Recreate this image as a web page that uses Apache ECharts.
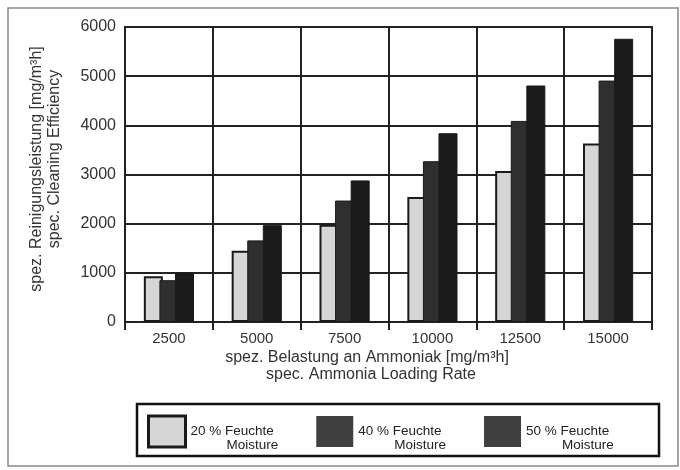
<!DOCTYPE html>
<html>
<head>
<meta charset="utf-8">
<script src="https://cdn.jsdelivr.net/npm/echarts@6/dist/echarts.min.js"></script>
<style>
html,body{margin:0;padding:0;background:#fff;}
#chart{width:680px;height:470px;}
</style>
</head>
<body>
<div id="chart"></div>
<script>
// ---- data ----
const categories = ['2500', '5000', '7500', '10000', '12500', '15000'];
const moisture20 = [930, 1450, 1980, 2540, 3070, 3630];
const moisture40 = [850, 1660, 2470, 3270, 4090, 4910];
const moisture50 = [1000, 1970, 2880, 3840, 4810, 5760];
const seriesNames = ['20 % Feuchte', '40 % Feuchte', '50 % Feuchte'];
const seriesSubNames = ['Moisture', 'Moisture', 'Moisture'];
const yTicks = { min: 0, max: 6000, interval: 1000 };
const xTitle = ['spez. Belastung an Ammoniak [mg/m³h]', 'spec. Ammonia Loading Rate'];
const yTitle = ['spez. Reinigungsleistung [mg/m³h]', 'spec. Cleaning Efficiency'];

const FONT = '"Liberation Sans", Arial, Helvetica, sans-serif';
const INK = '#222';

const chart = echarts.init(document.getElementById('chart'), null, { renderer: 'canvas' });

const barColors = ['#d6d6d6', '#2f2f2f', '#1b1b1b'];
const legendColors = ['#d6d6d6', '#404040', '#404040'];
const seriesData = [moisture20, moisture40, moisture50];

const series = seriesNames.map((name, i) => ({
  name: name,
  type: 'bar',
  data: seriesData[i],
  barWidth: 19,
  barGap: '-18%',
  itemStyle: i === 0
    ? { color: barColors[i], borderColor: '#1a1a1a', borderWidth: 2 }
    : { color: barColors[i], borderColor: '#1a1a1a', borderWidth: 1 },
  emphasis: { disabled: true },
  animation: false
}));

chart.setOption({
  backgroundColor: '#fff',
  animation: false,
  grid: {
    left: 125, right: 28, top: 27, bottom: 148,
    show: true, borderColor: INK, borderWidth: 2, backgroundColor: 'transparent'
  },
  xAxis: {
    type: 'category',
    data: categories,
    axisLine: { show: true, lineStyle: { color: INK, width: 2 } },
    axisTick: { show: true, length: 8, lineStyle: { color: INK, width: 2 } },
    splitLine: { show: true, lineStyle: { color: INK, width: 2 } },
    axisLabel: { fontSize: 15, color: '#333', margin: 9, fontFamily: FONT }
  },
  yAxis: {
    type: 'value',
    min: yTicks.min, max: yTicks.max, interval: yTicks.interval,
    axisLine: { show: true, lineStyle: { color: INK, width: 2 } },
    axisTick: { show: false },
    splitLine: { show: true, lineStyle: { color: INK, width: 2 } },
    axisLabel: { fontSize: 16, color: '#333', margin: 9, fontFamily: FONT,
      formatter: function (v) { return String(v); } }
  },
  legend: {
    left: 147, top: 414.5,
    orient: 'horizontal',
    itemWidth: 37, itemHeight: 31, itemGap: 38,
    padding: 0,
    icon: 'rect',
    selectedMode: false,
    data: seriesNames.map((n, i) => ({
      name: n,
      icon: 'rect',
      itemStyle: i === 0
        ? { color: legendColors[i], borderColor: '#1a1a1a', borderWidth: 3 }
        : { color: legendColors[i], borderWidth: 0 }
    })),
    formatter: function (name) {
      const i = seriesNames.indexOf(name);
      return '{a|' + name + '}\n{b|' + seriesSubNames[i] + '}';
    },
    textStyle: {
      width: 90,
      padding: [14, 0, 0, 0],
      fontFamily: FONT,
      color: INK,
      rich: {
        a: { fontSize: 13.5, lineHeight: 14, color: INK, fontFamily: FONT },
        b: { fontSize: 13.5, lineHeight: 14, color: INK, fontFamily: FONT, padding: [0, 0, 0, 36] }
      }
    }
  },
  graphic: [
    { type: 'rect', z: -10, silent: true,
      shape: { x: 8, y: 8, width: 670, height: 458 },
      style: { fill: 'none', stroke: '#888', lineWidth: 1.5 } },
    { type: 'rect', silent: true,
      shape: { x: 137, y: 404, width: 522, height: 52 },
      style: { fill: 'none', stroke: '#111', lineWidth: 2.5 } },
    { type: 'text', x: 367, y: 358, silent: true,
      style: { text: xTitle[0], align: 'center', verticalAlign: 'middle', fontSize: 16, fill: '#333', fontFamily: FONT } },
    { type: 'text', x: 371, y: 375, silent: true,
      style: { text: xTitle[1], align: 'center', verticalAlign: 'middle', fontSize: 16, fill: '#333', fontFamily: FONT } },
    { type: 'text', x: 37, y: 169, rotation: Math.PI / 2, silent: true,
      style: { text: yTitle[0], align: 'center', verticalAlign: 'middle', fontSize: 16, fill: '#333', fontFamily: FONT } },
    { type: 'text', x: 55, y: 159, rotation: Math.PI / 2, silent: true,
      style: { text: yTitle[1], align: 'center', verticalAlign: 'middle', fontSize: 16, fill: '#333', fontFamily: FONT } }
  ],
  series: series
});
</script>
</body>
</html>
